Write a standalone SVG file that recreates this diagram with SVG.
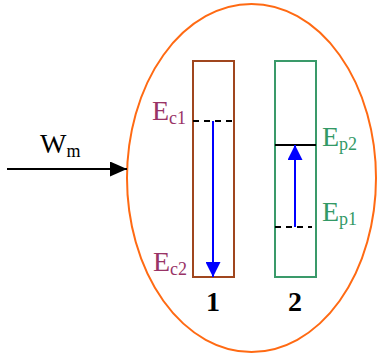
<svg xmlns="http://www.w3.org/2000/svg" width="380" height="360" viewBox="0 0 380 360">
<defs>
<style>
.t{font-family:"Liberation Serif","Times New Roman",serif;}
.ec{fill:#993366;}
.ep{fill:#339966;}
.lvl{stroke:#000;stroke-width:2;fill:none;}
.dash{stroke-dasharray:6,5;}
.blue{stroke:#0000ff;stroke-width:2;fill:none;}
</style>
<marker id="ab" viewBox="0 0 15 15" refX="15" refY="7.5" markerWidth="15" markerHeight="15" markerUnits="userSpaceOnUse" orient="auto"><path d="M0,0 L15,7.5 L0,15 z" fill="#0000ff"/></marker>
<marker id="ak" viewBox="0 0 17 15" refX="17" refY="7.5" markerWidth="17" markerHeight="15" markerUnits="userSpaceOnUse" orient="auto"><path d="M0,0 L17,7.5 L0,15 z" fill="#000"/></marker>
</defs>
<rect width="380" height="360" fill="#fff"/>
<g id="ellipse"><ellipse cx="251.5" cy="178" rx="124.5" ry="174" fill="none" stroke="#ff6a13" stroke-width="2"/></g>
<g id="box1">
<rect x="193" y="61" width="41" height="216" fill="none" stroke="#a0461e" stroke-width="2"/>
<line class="lvl dash" x1="193" y1="121" x2="232" y2="121"/>
<text class="t ec" x="152" y="120" font-size="28">E<tspan font-size="18" dy="4">c1</tspan></text>
<text class="t ec" x="153" y="271" font-size="28">E<tspan font-size="18" dy="4">c2</tspan></text>
<text class="t" x="213" y="311" font-size="28" font-weight="bold" text-anchor="middle">1</text>
</g>
<g id="box2">
<rect x="275" y="61" width="41" height="216" fill="none" stroke="#3a9a6a" stroke-width="2"/>
<line class="lvl" x1="275" y1="145" x2="316" y2="145"/>
<line class="lvl dash" x1="275" y1="227" x2="312" y2="227"/>
<text class="t ep" x="322" y="146" font-size="28">E<tspan font-size="18" dy="4">p2</tspan></text>
<text class="t ep" x="322" y="221" font-size="28">E<tspan font-size="18" dy="4">p1</tspan></text>
<text class="t" x="295" y="311" font-size="28" font-weight="bold" text-anchor="middle">2</text>
</g>
<g id="wm">
<text class="t" x="40" y="153" font-size="28">W<tspan font-size="18" dy="4">m</tspan></text>
</g>
<g id="connectors">
<line x1="7" y1="169" x2="127" y2="169" stroke="#000" stroke-width="2" marker-end="url(#ak)"/>
<line class="blue" x1="213" y1="121" x2="213" y2="277" marker-end="url(#ab)"/>
<line class="blue" x1="295" y1="227" x2="295" y2="145" marker-end="url(#ab)"/>
</g>
</svg>
